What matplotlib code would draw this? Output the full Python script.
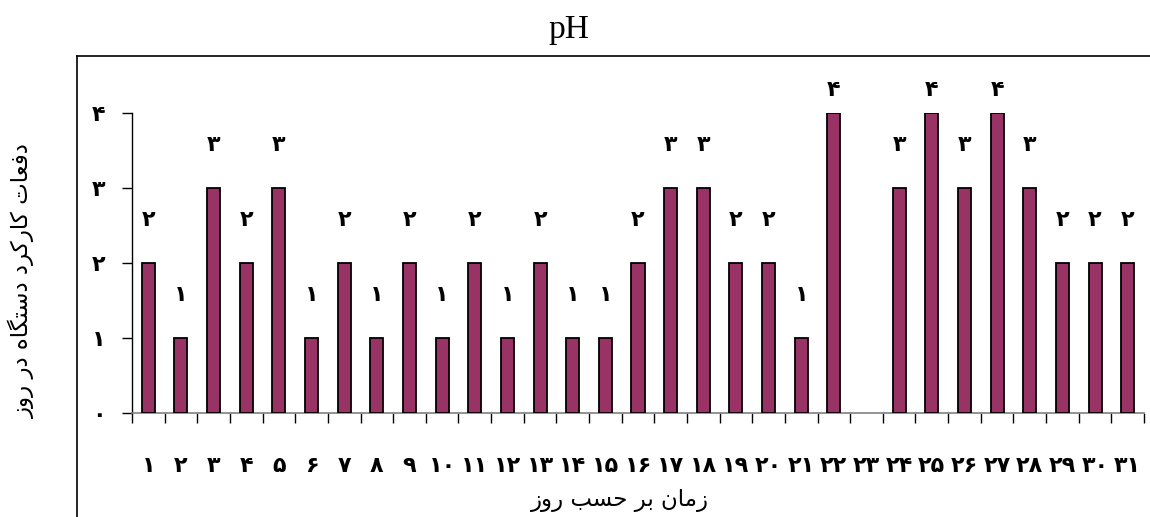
import matplotlib
matplotlib.use("Agg")
import matplotlib.pyplot as plt
from matplotlib.lines import Line2D

# ---------------- data ----------------
days = list(range(1, 32))
counts = [2, 1, 3, 2, 3, 1, 2, 1, 2, 1, 2, 1, 2, 1, 1, 2, 3, 3, 2, 2, 1, 4, 0, 3, 4, 3, 4, 3, 2, 2, 2]
y_ticks = [0, 1, 2, 3, 4]
title_text = "pH"
xlabel_text = "زمان بر حسب روز"
ylabel_text = "دفعات کارکرد دستگاه در روز"

# ---------------- helpers: Persian digits & simple Arabic shaping ----------------
PERSIAN_DIGITS = "۰۱۲۳۴۵۶۷۸۹"


def fa_num(n):
    return "".join(PERSIAN_DIGITS[int(c)] for c in str(n))


# char: (isolated, final, initial, medial) ; None for initial/medial => right-joining only
FORMS = {
    "ا": ("\uFE8D", "\uFE8E", None, None),
    "ب": ("\uFE8F", "\uFE90", "\uFE91", "\uFE92"),
    "ت": ("\uFE95", "\uFE96", "\uFE97", "\uFE98"),
    "ح": ("\uFEA1", "\uFEA2", "\uFEA3", "\uFEA4"),
    "د": ("\uFEA9", "\uFEAA", None, None),
    "ر": ("\uFEAD", "\uFEAE", None, None),
    "ز": ("\uFEAF", "\uFEB0", None, None),
    "س": ("\uFEB1", "\uFEB2", "\uFEB3", "\uFEB4"),
    "ع": ("\uFEC9", "\uFECA", "\uFECB", "\uFECC"),
    "ف": ("\uFED1", "\uFED2", "\uFED3", "\uFED4"),
    "م": ("\uFEE1", "\uFEE2", "\uFEE3", "\uFEE4"),
    "ن": ("\uFEE5", "\uFEE6", "\uFEE7", "\uFEE8"),
    "ه": ("\uFEE9", "\uFEEA", "\uFEEB", "\uFEEC"),
    "و": ("\uFEED", "\uFEEE", None, None),
    "ک": ("\uFB8E", "\uFB8F", "\uFB90", "\uFB91"),
    "گ": ("\uFB92", "\uFB93", "\uFB94", "\uFB95"),
}


def shape(text):
    out = []
    n = len(text)
    for i, ch in enumerate(text):
        if ch not in FORMS:
            out.append(ch)
            continue
        prev = text[i - 1] if i > 0 else None
        nxt = text[i + 1] if i < n - 1 else None
        joins_prev = prev in FORMS and FORMS[prev][2] is not None
        joins_next = FORMS[ch][2] is not None and nxt in FORMS
        iso, fin, ini, med = FORMS[ch]
        if joins_prev and joins_next:
            out.append(med)
        elif joins_prev:
            out.append(fin)
        elif joins_next:
            out.append(ini)
        else:
            out.append(iso)
    return "".join(out)[::-1]


# ---------------- figure ----------------
W, H = 1150, 517
fig = plt.figure(figsize=(W / 100, H / 100), dpi=100)
ax = fig.add_axes([132 / W, 1 - 413 / H, (1144 - 132) / W, (413 - 113) / H])

bar_color = "#993366"
ax.bar(days, counts, width=0.4, color=bar_color, edgecolor="black",
       linewidth=[1.3 if v else 0 for v in counts], zorder=3)

ax.set_xlim(0.5, 31.5)
ax.set_ylim(0, 4)

NUM_FONT = dict(fontsize=16, fontweight="bold", family="DejaVu Sans")

# x ticks at category boundaries, labels at centres
ax.set_xticks([d + 0.5 for d in [0] + days])
ax.set_xticklabels([])
ax.set_xticks(days, minor=True)
ax.set_xticklabels([fa_num(d) for d in days], minor=True, **NUM_FONT)
ax.tick_params(axis="x", which="major", direction="out", length=7, width=1, color="black")
ax.tick_params(axis="x", which="minor", length=0, pad=31)

ax.set_yticks(y_ticks)
ax.set_yticklabels([fa_num(v) for v in y_ticks], **NUM_FONT)
ax.tick_params(axis="y", direction="out", length=7, width=1, color="black", pad=12)

for side in ["top", "right"]:
    ax.spines[side].set_visible(False)
ax.spines["left"].set_color("black")
ax.spines["bottom"].set_color("#808080")
ax.spines["left"].set_linewidth(1)
ax.spines["bottom"].set_linewidth(1.2)

# value labels
for d, v in zip(days, counts):
    if v == 0:
        continue
    ypos = v + (0.57 if v < 4 else 0.31)
    ax.text(d, ypos, fa_num(v), ha="center", va="center", clip_on=False, **NUM_FONT)

# titles / labels
fig.text(569 / W, 1 - 30 / H, title_text, ha="center", va="center",
         fontsize=24, family="Liberation Serif")
fig.text(620 / W, 1 - 500 / H, shape(xlabel_text), ha="center", va="center",
         fontsize=16.5, family="DejaVu Sans")
fig.text(22 / W, 1 - 281 / H, shape(ylabel_text), ha="center", va="center",
         rotation=90, fontsize=16.5, family="DejaVu Sans")

# outer chart-area frame (left and top edges visible)
fig.add_artist(Line2D([77 / W, 77 / W], [0, 1 - 56 / H], transform=fig.transFigure,
                      color="black", linewidth=1.2))
fig.add_artist(Line2D([77 / W, 1], [1 - 56 / H, 1 - 56 / H], transform=fig.transFigure,
                      color="black", linewidth=1.2))

fig.savefig("out.png", dpi=100)
